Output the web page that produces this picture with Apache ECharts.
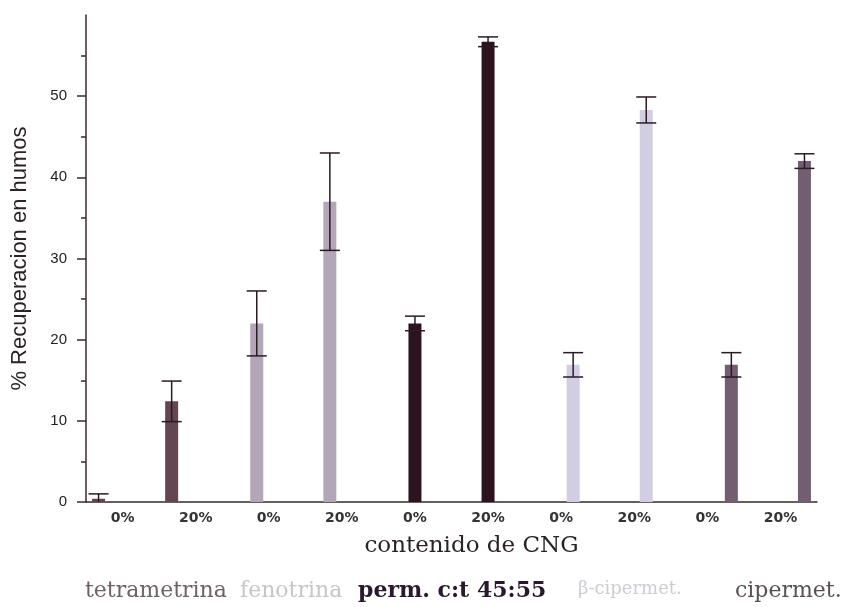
<!DOCTYPE html>
<html><head><meta charset="utf-8">
<script src="https://cdn.jsdelivr.net/npm/echarts@6/dist/echarts.min.js"></script>
<style>html,body{margin:0;padding:0;background:#fff}#c{width:850px;height:607px}</style>
</head><body><div id="c"></div>
<script>
// ---- data ----
const categories = ['tetra 0%','tetra 20%','feno 0%','feno 20%','perm 0%','perm 20%','beta 0%','beta 20%','ciper 0%','ciper 20%'];
const tickLabels = ['0%','20%','0%','20%','0%','20%','0%','20%','0%','20%'];
const compounds = ['tetrametrina','fenotrina','perm. c:t 45:55','β-cipermet.','cipermet.'];
const yTickValues = [0, 10, 20, 30, 40, 50];
// mean recovery (%) at 0% and 20% CNG
const tetrametrina = [0.4, 12.4];
const fenotrina = [22.0, 37.0];
const permetrina = [22.0, 56.7];
const betaCipermetrina = [16.9, 48.3];
const cipermetrina = [16.9, 42.0];
// error (±) at 0% and 20% CNG
const tetrametrinaErr = [0.6, 2.5];
const fenotrinaErr = [4.0, 6.0];
const permetrinaErr = [0.9, 0.6];
const betaCipermetrinaErr = [1.5, 1.6];
const cipermetrinaErr = [1.5, 0.9];

// ---- styles ----
const barColors = ['#644652', '#b3a6b8', '#2b1420', '#d2cee2', '#735d70'];
const legendStyles = [
  {color:'#6e6266', fontWeight:'normal', fontSize:22},
  {color:'#c9c4ca', fontWeight:'normal', fontSize:22},
  {color:'#2a1830', fontWeight:'bold', fontSize:22},
  {color:'#cdcbd6', fontWeight:'normal', fontSize:18},
  {color:'#5a5054', fontWeight:'normal', fontSize:22}
];
const legendLeft = [85, 240, 358, 578, 735];
const BAR_W = 13, GAP_PX = -1;
const SLOT = BAR_W + GAP_PX;

const means = [tetrametrina, fenotrina, permetrina, betaCipermetrina, cipermetrina];
const errs = [tetrametrinaErr, fenotrinaErr, permetrinaErr, betaCipermetrinaErr, cipermetrinaErr];

const series = [];
compounds.forEach((name, k) => {
  const data = categories.map(() => null);
  data[2*k] = means[k][0];
  data[2*k+1] = means[k][1];
  series.push({
    name, type:'bar', data, barWidth: BAR_W, barGap: (GAP_PX / BAR_W * 100) + '%',
    itemStyle:{color: barColors[k]}, z: 2
  });
});
compounds.forEach((name, k) => {
  const data = [0, 1].map(j => [2*k + j, means[k][j] - errs[k][j], means[k][j] + errs[k][j]]);
  series.push({
    name, type:'custom', z: 5, clip: true,
    encode:{x:0, y:[1,2]},
    data,
    renderItem(params, api) {
      const cat = api.value(0);
      const lo = api.coord([cat, api.value(1)]);
      const hi = api.coord([cat, api.value(2)]);
      const x = lo[0] + (k - 2) * SLOT;
      const hw = 10;
      const st = {stroke:'#2a1a22', lineWidth:1.5};
      return {type:'group', children:[
        {type:'line', shape:{x1:x, y1:lo[1], x2:x, y2:hi[1]}, style:st},
        {type:'line', shape:{x1:x-hw, y1:hi[1], x2:x+hw, y2:hi[1]}, style:st},
        {type:'line', shape:{x1:x-hw, y1:lo[1], x2:x+hw, y2:lo[1]}, style:st}
      ]};
    }
  });
});

const legends = compounds.map((name, k) => ({
  data:[{name, textStyle: legendStyles[k]}],
  left: legendLeft[k] - 5, top: 580, padding: 0,
  icon:'none', itemWidth:0, itemHeight:14, itemGap:0,
  textStyle:{fontFamily:'DejaVu Serif', fontSize:22}
}));

const chart = echarts.init(document.getElementById('c'), null, {renderer:'canvas'});
chart.setOption({
  animation:false,
  backgroundColor:'#ffffff',
  legend: legends,
  grid:{left:86, right:33, top:15, bottom:105, containLabel:false, outerBoundsMode:'none'},
  xAxis:{
    type:'category', data: categories, boundaryGap:true,
    axisLine:{lineStyle:{color:'#3a2a2e', width:1.5}},
    axisTick:{show:false},
    axisLabel:{formatter:(v, i) => tickLabels[i], fontFamily:'DejaVu Sans', fontWeight:'bold', fontSize:14, color:'#333', margin:9},
    name:'contenido de CNG', nameLocation:'middle', nameGap:33,
    nameTextStyle:{fontFamily:'DejaVu Serif', fontSize:23, color:'#2a2226', padding:[0,0,0,40]}
  },
  yAxis:{
    type:'value', min:0, max:60, interval:10,
    axisLine:{show:true, lineStyle:{color:'#3a2a2e', width:1.5}},
    axisTick:{show:true, length:9, customValues: yTickValues, lineStyle:{color:'#3a2a2e', width:1.5}},
    minorTick:{show:true, splitNumber:2, length:5, lineStyle:{color:'#3a2a2e', width:1.5}},
    splitLine:{show:false},
    axisLabel:{customValues: yTickValues, fontFamily:'Liberation Sans', fontSize:15, color:'#222', margin:19},
    name:'% Recuperacion en humos', nameLocation:'middle', nameGap:55,
    nameTextStyle:{fontFamily:'Liberation Sans', fontSize:22, color:'#2a2226'}
  },
  series
});
</script>
</body></html>
